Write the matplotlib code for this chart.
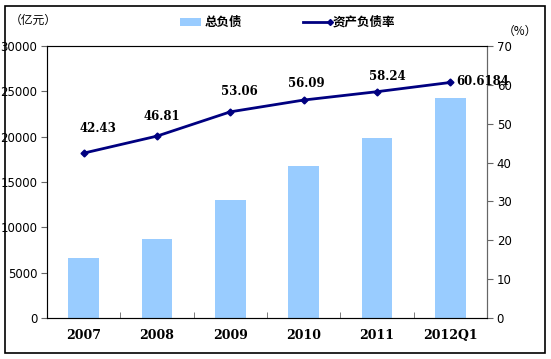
import matplotlib
matplotlib.use("Agg")
import matplotlib.pyplot as plt
from matplotlib.patches import Rectangle
from matplotlib.lines import Line2D

plt.rcParams['font.family'] = ['Noto Sans CJK SC', 'DejaVu Sans']

categories = ["2007", "2008", "2009", "2010", "2011", "2012Q1"]
total_debt = [6620, 8710, 13000, 16800, 19850, 24250]
debt_ratio = [42.43, 46.81, 53.06, 56.09, 58.24, 60.6184]
ratio_labels = ["42.43", "46.81", "53.06", "56.09", "58.24", "60.6184"]
left_ticks = [0, 5000, 10000, 15000, 20000, 25000, 30000]
right_ticks = [0, 10, 20, 30, 40, 50, 60, 70]

fig = plt.figure(figsize=(5.51, 3.59), dpi=100)
fig.patches.append(Rectangle((5/551, 1-353/359), 540/551, 347/359, transform=fig.transFigure,
                             fill=False, edgecolor='black', linewidth=1.2))
ax = fig.add_axes([47/551, 1-318/359, 440/551, 272/359])
x = list(range(len(categories)))
ax.bar(x, total_debt, width=0.42, color='#99CCFF', zorder=2)
ax.set_xlim(-0.5, len(categories)-0.5)
ax.set_ylim(0, 30000)
ax.set_yticks(left_ticks)
ax.set_yticklabels([str(t) for t in left_ticks], fontsize=8.5, family='DejaVu Sans')
ax.set_xticks(x)
ax.set_xticklabels(categories, fontsize=9, fontweight='bold', family='DejaVu Serif')
ax.tick_params(axis='x', length=0, pad=8)
ax.set_xticks([i + 0.5 for i in x[:-1]], minor=True)
ax.tick_params(axis='x', which='minor', direction='in', length=4, color='#666666')
ax.tick_params(axis='y', length=4, color='#666666', pad=3)
for s in ['left', 'right', 'bottom', 'top']:
    ax.spines[s].set_color('#666666')
ax.spines['top'].set_color('#888888')

ax2 = ax.twinx()
ax2.plot(x, debt_ratio, color='#000080', linewidth=2, marker='D', markersize=3.5, zorder=3)
ax2.set_ylim(0, 70)
ax2.set_yticks(right_ticks)
ax2.set_yticklabels([str(t) for t in right_ticks], fontsize=8.5, family='DejaVu Sans')
ax2.tick_params(axis='y', length=4, color='#666666', pad=3)
ax2.spines['right'].set_color('#666666')
label_offsets = [(14, 25), (5, 20), (9, 20), (3, 17), (10, 15)]
for i, (xi, yi, lab) in enumerate(zip(x, debt_ratio, ratio_labels)):
    if i < len(label_offsets):
        ax2.annotate(lab, (xi, yi), xytext=label_offsets[i], textcoords='offset pixels',
                     ha='center', va='center', fontsize=8.5, fontweight='bold',
                     family='DejaVu Serif', color='black')
    else:
        ax2.annotate(lab, (xi, yi), xytext=(6, 1), textcoords='offset pixels',
                     ha='left', va='center', fontsize=8.5, fontweight='bold',
                     family='DejaVu Serif', color='black', annotation_clip=False)

fig.text(10/551, 1-20/359, "（亿元）", fontsize=8.5, va='center', ha='left')
fig.text(520/551, 1-31/359, "（%）", fontsize=8.5, va='center', ha='center')

# legend
fig.patches.append(Rectangle((180/551, 1-26/359), 21/551, 8/359, transform=fig.transFigure,
                             facecolor='#99CCFF', edgecolor='none'))
fig.text(205/551, 1-22/359, "总负债", fontsize=9, fontweight='bold', va='center', ha='left')
fig.lines.append(Line2D([303/551, 330/551], [1-22/359, 1-22/359], transform=fig.transFigure,
                        color='#000080', linewidth=2, marker='D', markersize=3, markevery=[1]))
fig.text(333/551, 1-22/359, "资产负债率", fontsize=9, fontweight='bold', va='center', ha='left')

fig.savefig("out.png", dpi=100)
